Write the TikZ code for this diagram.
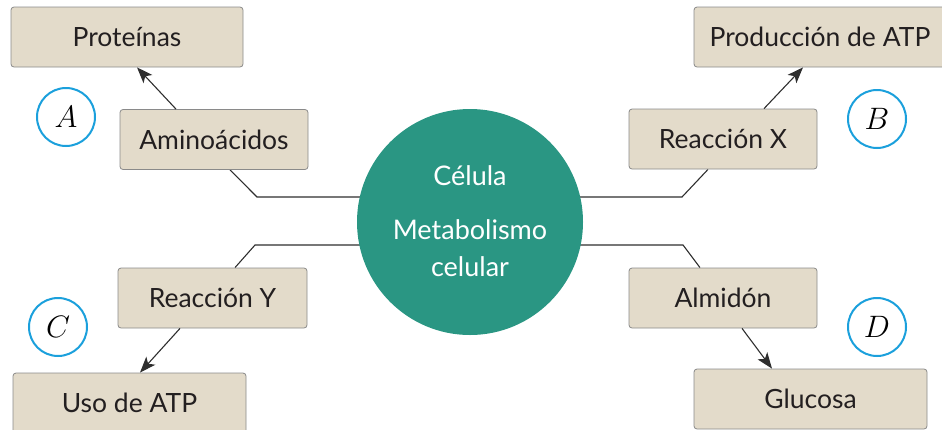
\RequirePackage{fix-cm}
\documentclass[tikz,border=0pt]{standalone}
\usepackage{fontspec}
\usepackage{graphicx}
\setmainfont{Lato}
\usetikzlibrary{arrows.meta,backgrounds}
\definecolor{boxfill}{HTML}{E3DBCA}
\definecolor{boxline}{HTML}{8A8A8A}
\definecolor{cellteal}{HTML}{2A9683}
\definecolor{ringblue}{HTML}{1BA0DC}
\definecolor{linegray}{HTML}{2E2E2E}
\definecolor{textdark}{HTML}{231F20}
\newcommand{\ringletter}[1]{\scalebox{1.55}{$#1$}}
\begin{document}
\begin{tikzpicture}[x=1pt,y=-1pt,
  conceptbox/.style={draw=boxline, line width=0.8pt, fill=boxfill, rounded corners=3pt,
    minimum height=60pt, inner sep=0pt, text=textdark, font=\fontsize{26.5}{30}\selectfont},
  letterring/.style={circle, draw=ringblue, line width=2pt, minimum size=58pt, inner sep=0pt,
    font=\fontsize{20}{24}\selectfont},
  celltext/.style={anchor=base, text=white, inner sep=0pt, font=\fontsize{27}{32}\selectfont},
  link/.style={draw=linegray, line width=1.1pt},
  arrowlink/.style={link, -{Stealth[length=16pt,width=12pt,inset=4pt]}}]
\clip (0,0) rectangle (942,429);

% central cell
\node[circle, fill=cellteal, minimum size=226pt, inner sep=0pt] (cell) at (470,222) {};
\node[celltext] (t1) at (470,185) {Célula};
\node[celltext] (t2) at (470,239) {Metabolismo};
\node[celltext] (t3) at (470,276) {celular};

% boxes
\node[conceptbox, minimum width=232pt] (prot) at (127,37) {Proteínas};
\node[conceptbox, minimum width=188pt] (amino) at (214,139.5) {Aminoácidos};
\node[conceptbox, minimum width=252pt] (prod) at (820,37) {Producción de ATP};
\node[conceptbox, minimum width=188pt] (reacX) at (723,139) {Reacción X};
\node[conceptbox, minimum width=189pt] (reacY) at (212.5,298) {Reacción Y};
\node[conceptbox, minimum width=233pt] (uso) at (129.5,403) {Uso de ATP};
\node[conceptbox, minimum width=188pt] (alm) at (723,298) {Almidón};
\node[conceptbox, minimum width=233pt] (gluc) at (810.5,399) {Glucosa};

% letter rings
\node[letterring] (ringA) at (66,117) {\ringletter{A}};
\node[letterring] (ringB) at (877,119) {\ringletter{B}};
\node[letterring] (ringC) at (58,327) {\ringletter{C}};
\node[letterring] (ringD) at (877,327) {\ringletter{D}};

% bends
\coordinate (bendA) at (257,197);
\coordinate (bendB) at (682,197);
\coordinate (bendC) at (255,245);
\coordinate (bendD) at (683,245);

\begin{scope}[on background layer]
  \draw[link] ([xshift=16pt]amino.south) -- (bendA) -- (bendA -| cell.center);
  \draw[link] ([xshift=-15pt]reacX.south) -- (bendB) -- (bendB -| cell.center);
  \draw[link] ([xshift=22.5pt]reacY.north) -- (bendC) -- (bendC -| cell.center);
  \draw[link] ([xshift=-23pt]alm.north) -- (bendD) -- (bendD -| cell.center);
\end{scope}

% arrows
\draw[arrowlink] ([xshift=-38pt]amino.north) -- ([xshift=10pt]prot.south);
\draw[arrowlink] ([xshift=41pt]reacX.north) -- ([xshift=-17pt]prod.south);
\draw[arrowlink] ([xshift=-32.5pt]reacY.south) -- ([xshift=10.5pt]uso.north);
\draw[arrowlink] ([xshift=19pt]alm.south) -- ([xshift=-38.5pt]gluc.north);
\end{tikzpicture}
\end{document}
